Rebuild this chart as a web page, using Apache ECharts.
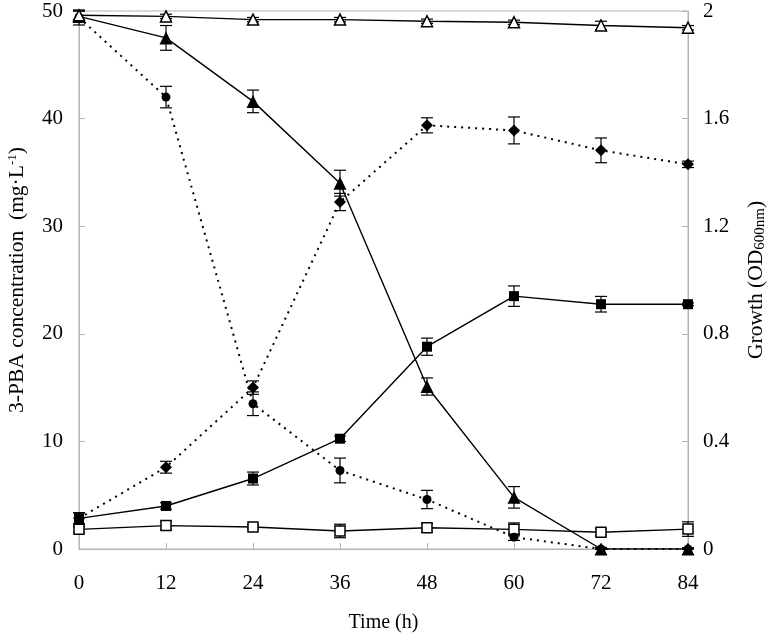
<!DOCTYPE html>
<html>
<head>
<meta charset="utf-8">
<script src="https://cdn.jsdelivr.net/npm/echarts@6/dist/echarts.min.js"></script>
<style>
	html, body { margin: 0; padding: 0; background: #fff; }
	#chart { width: 770px; height: 636px; }
</style>
</head>
<body>
<div id="chart"></div>
<script>
// time points (h)
const hours = [0, 12, 24, 36, 48, 60, 72, 84]

// 3-PBA concentration (mg/L), left axis
const pbaControl = [49.6, 49.5, 49.2, 49.2, 49.05, 48.95, 48.65, 48.45]
const pbaControlErr = [0.4, 0.2, 0.2, 0.2, 0.2, 0.2, 0.4, 0.2]
const pbaTriangle = [49.5, 47.5, 41.6, 34.0, 15.1, 4.8, 0, 0]
const pbaTriangleErr = [0.5, 1.15, 1.05, 1.2, 0.8, 1.0, 0.15, 0.1]
const pbaCircle = [49.4, 42.0, 13.5, 7.3, 4.6, 1.1, 0, 0]
const pbaCircleErr = [0.7, 1.0, 1.1, 1.15, 0.85, 0.3, 0.1, 0.1]

// growth OD600, right axis
const odSquare = [0.114, 0.16, 0.262, 0.41, 0.752, 0.94, 0.91, 0.91]
const odSquareErr = [0.021, 0.012, 0.024, 0.01, 0.032, 0.038, 0.029, 0.005]
const odDiamond = [0.114, 0.304, 0.6, 1.29, 1.575, 1.556, 1.482, 1.43]
const odDiamondErr = [0.02, 0.022, 0.025, 0.032, 0.028, 0.05, 0.046, 0.012]
const odOpenSquare = [0.073, 0.087, 0.082, 0.067, 0.079, 0.073, 0.062, 0.074]
const odOpenSquareErr = [0.01, 0.016, 0.008, 0.025, 0.016, 0.024, 0.012, 0.027]

const font = 'Liberation Serif'
const axisGrey = '#b3b3b3'

const pairs = (ys) => hours.map((h, i) => [h, ys[i]])
const triples = (ys, es) => hours.map((h, i) => [h, ys[i], es[i]])

function errorBars(data, yAxisIndex) {
	return {
		type: 'custom',
		yAxisIndex,
		silent: true,
		z: 1,
		data: data,
		renderItem: (params, api) => {
			const x = api.value(0)
			const y = api.value(1)
			const e = api.value(2)
			const top = api.coord([x, y + e])
			const bot = api.coord([x, Math.max(y - e, 0)])
			const w = 6
			const style = { stroke: '#000', lineWidth: 1.2 }
			return {
				type: 'group',
				children: [
					{ type: 'line', shape: { x1: top[0], y1: top[1], x2: bot[0], y2: bot[1] }, style },
					{ type: 'line', shape: { x1: top[0] - w, y1: top[1], x2: top[0] + w, y2: top[1] }, style },
					{ type: 'line', shape: { x1: bot[0] - w, y1: bot[1], x2: bot[0] + w, y2: bot[1] }, style }
				]
			}
		}
	}
}

function line(data, yAxisIndex, symbol, size, open, dotted) {
	return {
		type: 'line',
		yAxisIndex,
		data: data,
		symbol,
		symbolSize: size,
		z: 3,
		lineStyle: {
			color: '#000',
			width: dotted ? 2 : 1.4,
			type: dotted ? [2, 5] : 'solid'
		},
		itemStyle: open
			? { color: '#fff', borderColor: '#000', borderWidth: 1.5 }
			: { color: '#000', borderColor: '#000', borderWidth: 0 },
		animation: false
	}
}

const chart = echarts.init(document.getElementById('chart'), null, { renderer: 'canvas' })

const option = {
	animation: false,
	backgroundColor: '#fff',
	textStyle: { fontFamily: font },
	grid: {
		left: 79,
		right: 82,
		top: 11,
		bottom: 87,
		outerBoundsMode: 'none',
		show: true,
		borderColor: axisGrey,
		borderWidth: 1
	},
	xAxis: {
		type: 'value',
		min: 0,
		max: 84,
		interval: 12,
		name: 'Time (h)',
		nameLocation: 'middle',
		nameGap: 64,
		nameTextStyle: { fontFamily: font, fontSize: 20, color: '#000' },
		axisLine: { lineStyle: { color: axisGrey } },
		axisTick: { inside: true, length: 6, lineStyle: { color: axisGrey } },
		axisLabel: { fontFamily: font, fontSize: 21, color: '#000', margin: 24 },
		splitLine: { show: false }
	},
	yAxis: [
		{
			type: 'value',
			min: 0,
			max: 50,
			interval: 10,
			name: '{t|3-PBA concentration  (mg·L}{s|-1}{t|)}',
			nameLocation: 'middle',
			nameGap: 50,
			nameRotate: 90,
			nameTextStyle: {
				rich: {
					t: { fontFamily: font, fontSize: 21.5, color: '#000' },
					s: { fontFamily: font, fontSize: 13, color: '#000', verticalAlign: 'top', padding: [0, 0, 10, 0] }
				}
			},
			axisLine: { show: true, lineStyle: { color: axisGrey } },
			axisTick: { show: true, inside: true, length: 6, lineStyle: { color: axisGrey } },
			axisLabel: { fontFamily: font, fontSize: 21, color: '#000', margin: 16 },
			splitLine: { show: false }
		},
		{
			type: 'value',
			min: 0,
			max: 2,
			interval: 0.4,
			position: 'right',
			name: '{t|Growth (OD}{s|600nm}{t|)}',
			nameLocation: 'middle',
			nameGap: 57,
			nameRotate: 90,
			nameTextStyle: {
				rich: {
					t: { fontFamily: font, fontSize: 21.5, color: '#000' },
					s: { fontFamily: font, fontSize: 15, color: '#000', padding: [8, 0, 0, 0] }
				}
			},
			axisLine: { show: true, lineStyle: { color: axisGrey } },
			axisTick: { show: true, inside: true, length: 6, lineStyle: { color: axisGrey } },
			axisLabel: { fontFamily: font, fontSize: 21, color: '#000', margin: 15 },
			splitLine: { show: false }
		}
	],
	series: [
		errorBars(triples(pbaControl, pbaControlErr), 0),
		errorBars(triples(pbaTriangle, pbaTriangleErr), 0),
		errorBars(triples(pbaCircle, pbaCircleErr), 0),
		errorBars(triples(odSquare, odSquareErr), 1),
		errorBars(triples(odDiamond, odDiamondErr), 1),
		errorBars(triples(odOpenSquare, odOpenSquareErr), 1),
		line(pairs(odOpenSquare), 1, 'rect', 10, true, false),
		line(pairs(odSquare), 1, 'rect', 10, false, false),
		line(pairs(odDiamond), 1, 'diamond', 12, false, true),
		line(pairs(pbaCircle), 0, 'circle', 9, false, true),
		line(pairs(pbaTriangle), 0, 'triangle', 13, false, false),
		line(pairs(pbaControl), 0, 'triangle', 11, true, false)
	]
}

chart.setOption(option)

window.addEventListener('resize', () => chart.resize())
</script>
</body>
</html>
